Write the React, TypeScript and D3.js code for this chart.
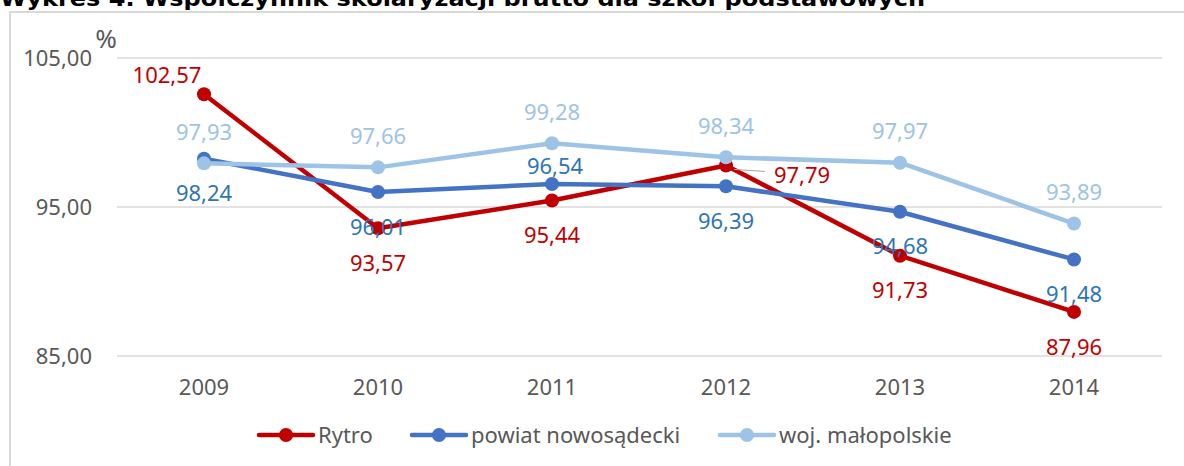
import React from "react";
import * as d3 from "d3";

const years = ["2009", "2010", "2011", "2012", "2013", "2014"];
const rytro = [102.57, 93.57, 95.44, 97.79, 91.73, 87.96];
const powiat = [98.24, 96.01, 96.54, 96.39, 94.68, 91.48];
const woj = [97.93, 97.66, 99.28, 98.34, 97.97, 93.89];
const yTicks = [85, 95, 105];
const seriesNames = ["Rytro", "powiat nowosądecki", "woj. małopolskie"];
const title = "Wykres 4. Współczynnik skolaryzacji brutto dla szkół podstawowych";

// label placement keys (style, not data)
const rytroPlace = ["aboveLeft", "below", "below", "rightLeader", "below", "below"];
const powiatPlace = ["below", "below", "aboveNear", "below", "below", "below"];
const wojPlace = ["above", "above", "above", "above", "above", "above"];

const W = 1184;
const H = 466;
const FONT = "'Noto Sans', 'Open Sans', sans-serif";

const fmt = (v: number) => v.toFixed(2).replace(".", ",");

export default function App() {
  const x = d3.scalePoint<string>().domain(years).range([117, 1161]).padding(0.5);
  const y = d3.scaleLinear().domain([85, 105]).range([356, 58]);

  const series = [
    { name: seriesNames[0], values: rytro, color: "#C00000", labelColor: "#C00000", place: rytroPlace },
    { name: seriesNames[1], values: powiat, color: "#4472C4", labelColor: "#2E75B6", place: powiatPlace },
    { name: seriesNames[2], values: woj, color: "#9DC3E6", labelColor: "#9DC3E6", place: wojPlace },
  ];

  const line = d3
    .line<number>()
    .x((_, i) => x(years[i]) as number)
    .y((d) => y(d));

  const labelPos = (place: string, px: number, py: number) => {
    switch (place) {
      case "above":
        return { lx: px, ly: py - 31 };
      case "aboveNear":
        return { lx: px + 3, ly: py - 18 };
      case "aboveLeft":
        return { lx: px - 37, ly: py - 19 };
      case "rightLeader":
        return { lx: px + 76, ly: py + 10 };
      default:
        return { lx: px, ly: py + 35 };
    }
  };

  const legendX = [259, 412, 720];

  return (
    <svg
      width={W}
      height={H}
      style={{ position: "absolute", left: 0, top: 0, background: "#fff" }}
      fontFamily={FONT}
    >
      <rect x={0} y={0} width={W} height={H} fill="#fff" />
      <text x={0} y={6} fontFamily="'DejaVu Sans', sans-serif" fontWeight="bold" fontSize={21} fill="#000"
        textLength={925} lengthAdjust="spacingAndGlyphs">
        {title}
      </text>
      <rect x={10} y={12} width={W + 20} height={H + 20} fill="none" stroke="#D9D9D9" strokeWidth={2} />

      {yTicks.map((t) => (
        <g key={t}>
          <line x1={117} x2={1162} y1={y(t)} y2={y(t)} stroke="#D9D9D9" strokeWidth={1.5} />
          <text x={92} y={y(t)} dy="0.35em" textAnchor="end" fontSize={22} fill="#595959">
            {fmt(t)}
          </text>
        </g>
      ))}
      <text x={106} y={48} textAnchor="middle" fontSize={26} fill="#595959">%</text>

      {years.map((yr) => (
        <text key={yr} x={x(yr)} y={387} dy="0.35em" textAnchor="middle" fontSize={22} fill="#595959">
          {yr}
        </text>
      ))}

      {series.map((s) => (
        <g key={s.name}>
          <path d={line(s.values) || ""} fill="none" stroke={s.color} strokeWidth={4.5} strokeLinejoin="round" strokeLinecap="round" />
          {s.values.map((v, i) => (
            <circle key={i} cx={x(years[i])} cy={y(v)} r={7} fill={s.color} />
          ))}
        </g>
      ))}

      {series.map((s) => (
        <g key={s.name + "-labels"}>
          {s.values.map((v, i) => {
            const px = x(years[i]) as number;
            const py = y(v);
            const { lx, ly } = labelPos(s.place[i], px, py);
            return (
              <g key={i}>
                {s.place[i] === "rightLeader" && (
                  <line x1={px + 8} y1={py + 4} x2={px + 39} y2={py + 6} stroke="#A6A6A6" strokeWidth={1} />
                )}
                <text x={lx} y={ly} dy="0.35em" textAnchor="middle" fontSize={22} fill={s.labelColor}>
                  {fmt(v)}
                </text>
              </g>
            );
          })}
        </g>
      ))}

      {series.map((s, i) => (
        <g key={s.name + "-leg"} transform={`translate(${legendX[i]},435)`}>
          <line x1={0} x2={54} y1={0} y2={0} stroke={s.color} strokeWidth={4.5} strokeLinecap="round" />
          <circle cx={27} cy={0} r={7} fill={s.color} />
          <text x={59} y={0} dy="0.35em" fontSize={22} fill="#595959">
            {s.name}
          </text>
        </g>
      ))}
    </svg>
  );
}
